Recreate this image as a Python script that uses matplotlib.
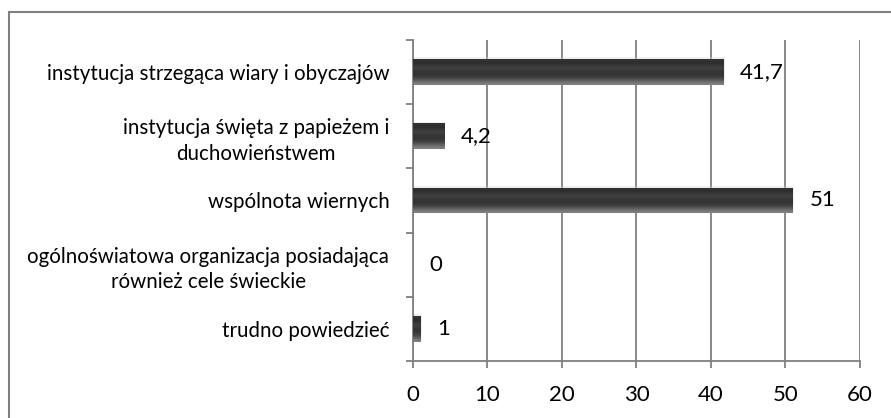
import numpy as np
import matplotlib.pyplot as plt
from matplotlib.patches import Rectangle

categories = [
    "instytucja strzegąca wiary i obyczajów",
    "instytucja święta z papieżem i\nduchowieństwem",
    "wspólnota wiernych",
    "ogólnoświatowa organizacja posiadająca\nrównież cele świeckie",
    "trudno powiedzieć",
]
values = [41.7, 4.2, 51, 0, 1]
value_labels = ["41,7", "4,2", "51", "0", "1"]
xticks = [0, 10, 20, 30, 40, 50, 60]

plt.rcParams['font.family'] = ['Lato', 'DejaVu Sans']

fig = plt.figure(figsize=(8.91, 4.18), dpi=100)
ax = fig.add_axes([0.4635, 0.1364, 0.5017, 0.7679])

# outer frame (only left/top edges visible in the original)
fig.patches.append(Rectangle((9 / 891, -0.05), 1.2, 1 - 12 / 418 + 0.05,
                             transform=fig.transFigure, fill=False,
                             edgecolor='#808080', linewidth=1.5))

y = np.arange(len(categories))
h = 0.4
bars = ax.barh(y, values, height=h, color='#333333', zorder=3)

# vertical shading on bars
grad = np.array([0.5, 0.4, 0.28, 0.22, 0.2, 0.22, 0.26, 0.22, 0.17, 0.2]).reshape(-1, 1)
for b in bars:
    if b.get_width() <= 0:
        continue
    x0, y0 = b.get_x(), b.get_y()
    w, hh = b.get_width(), b.get_height()
    im = ax.imshow(grad, cmap='gray', vmin=0, vmax=1, aspect='auto',
                   extent=(x0, x0 + w, y0, y0 + hh), origin='upper',
                   zorder=4, interpolation='bicubic')
    im.set_clip_path(b)
    ax.add_patch(Rectangle((x0 + 0.15, y0 - 0.03), w, hh, color='#d0d0d0',
                           alpha=0.35, zorder=2, linewidth=0))

for yi, v, lab in zip(y, values, value_labels):
    ax.text(v + 2.2, yi, lab, va='center', ha='left', fontsize=16, zorder=5)

ax.set_xlim(0, 60)
ax.set_ylim(len(categories) - 0.5, -0.5)
ax.set_xticks(xticks)
ax.set_xticklabels([str(t) for t in xticks], fontsize=16)
ax.grid(axis='x', color='#808080', linewidth=1.3, zorder=0)
ax.set_axisbelow(True)

ax.set_yticks(y)
ax.set_yticklabels(categories, fontsize=14.8, multialignment='center',
                   linespacing=1.35)
ax.set_yticks(np.arange(-0.5, len(categories) + 0.5, 1), minor=True)
ax.tick_params(axis='y', which='major', length=0, pad=17)
ax.tick_params(axis='y', which='minor', length=5, color='#808080', width=1.3, direction='out')
ax.tick_params(axis='x', length=5, color='#808080', width=1.3, direction='out', pad=12)

for s in ['top', 'right']:
    ax.spines[s].set_visible(False)
for s in ['left', 'bottom']:
    ax.spines[s].set_color('#808080')
    ax.spines[s].set_linewidth(1.3)

fig.savefig('out.png', dpi=100)
